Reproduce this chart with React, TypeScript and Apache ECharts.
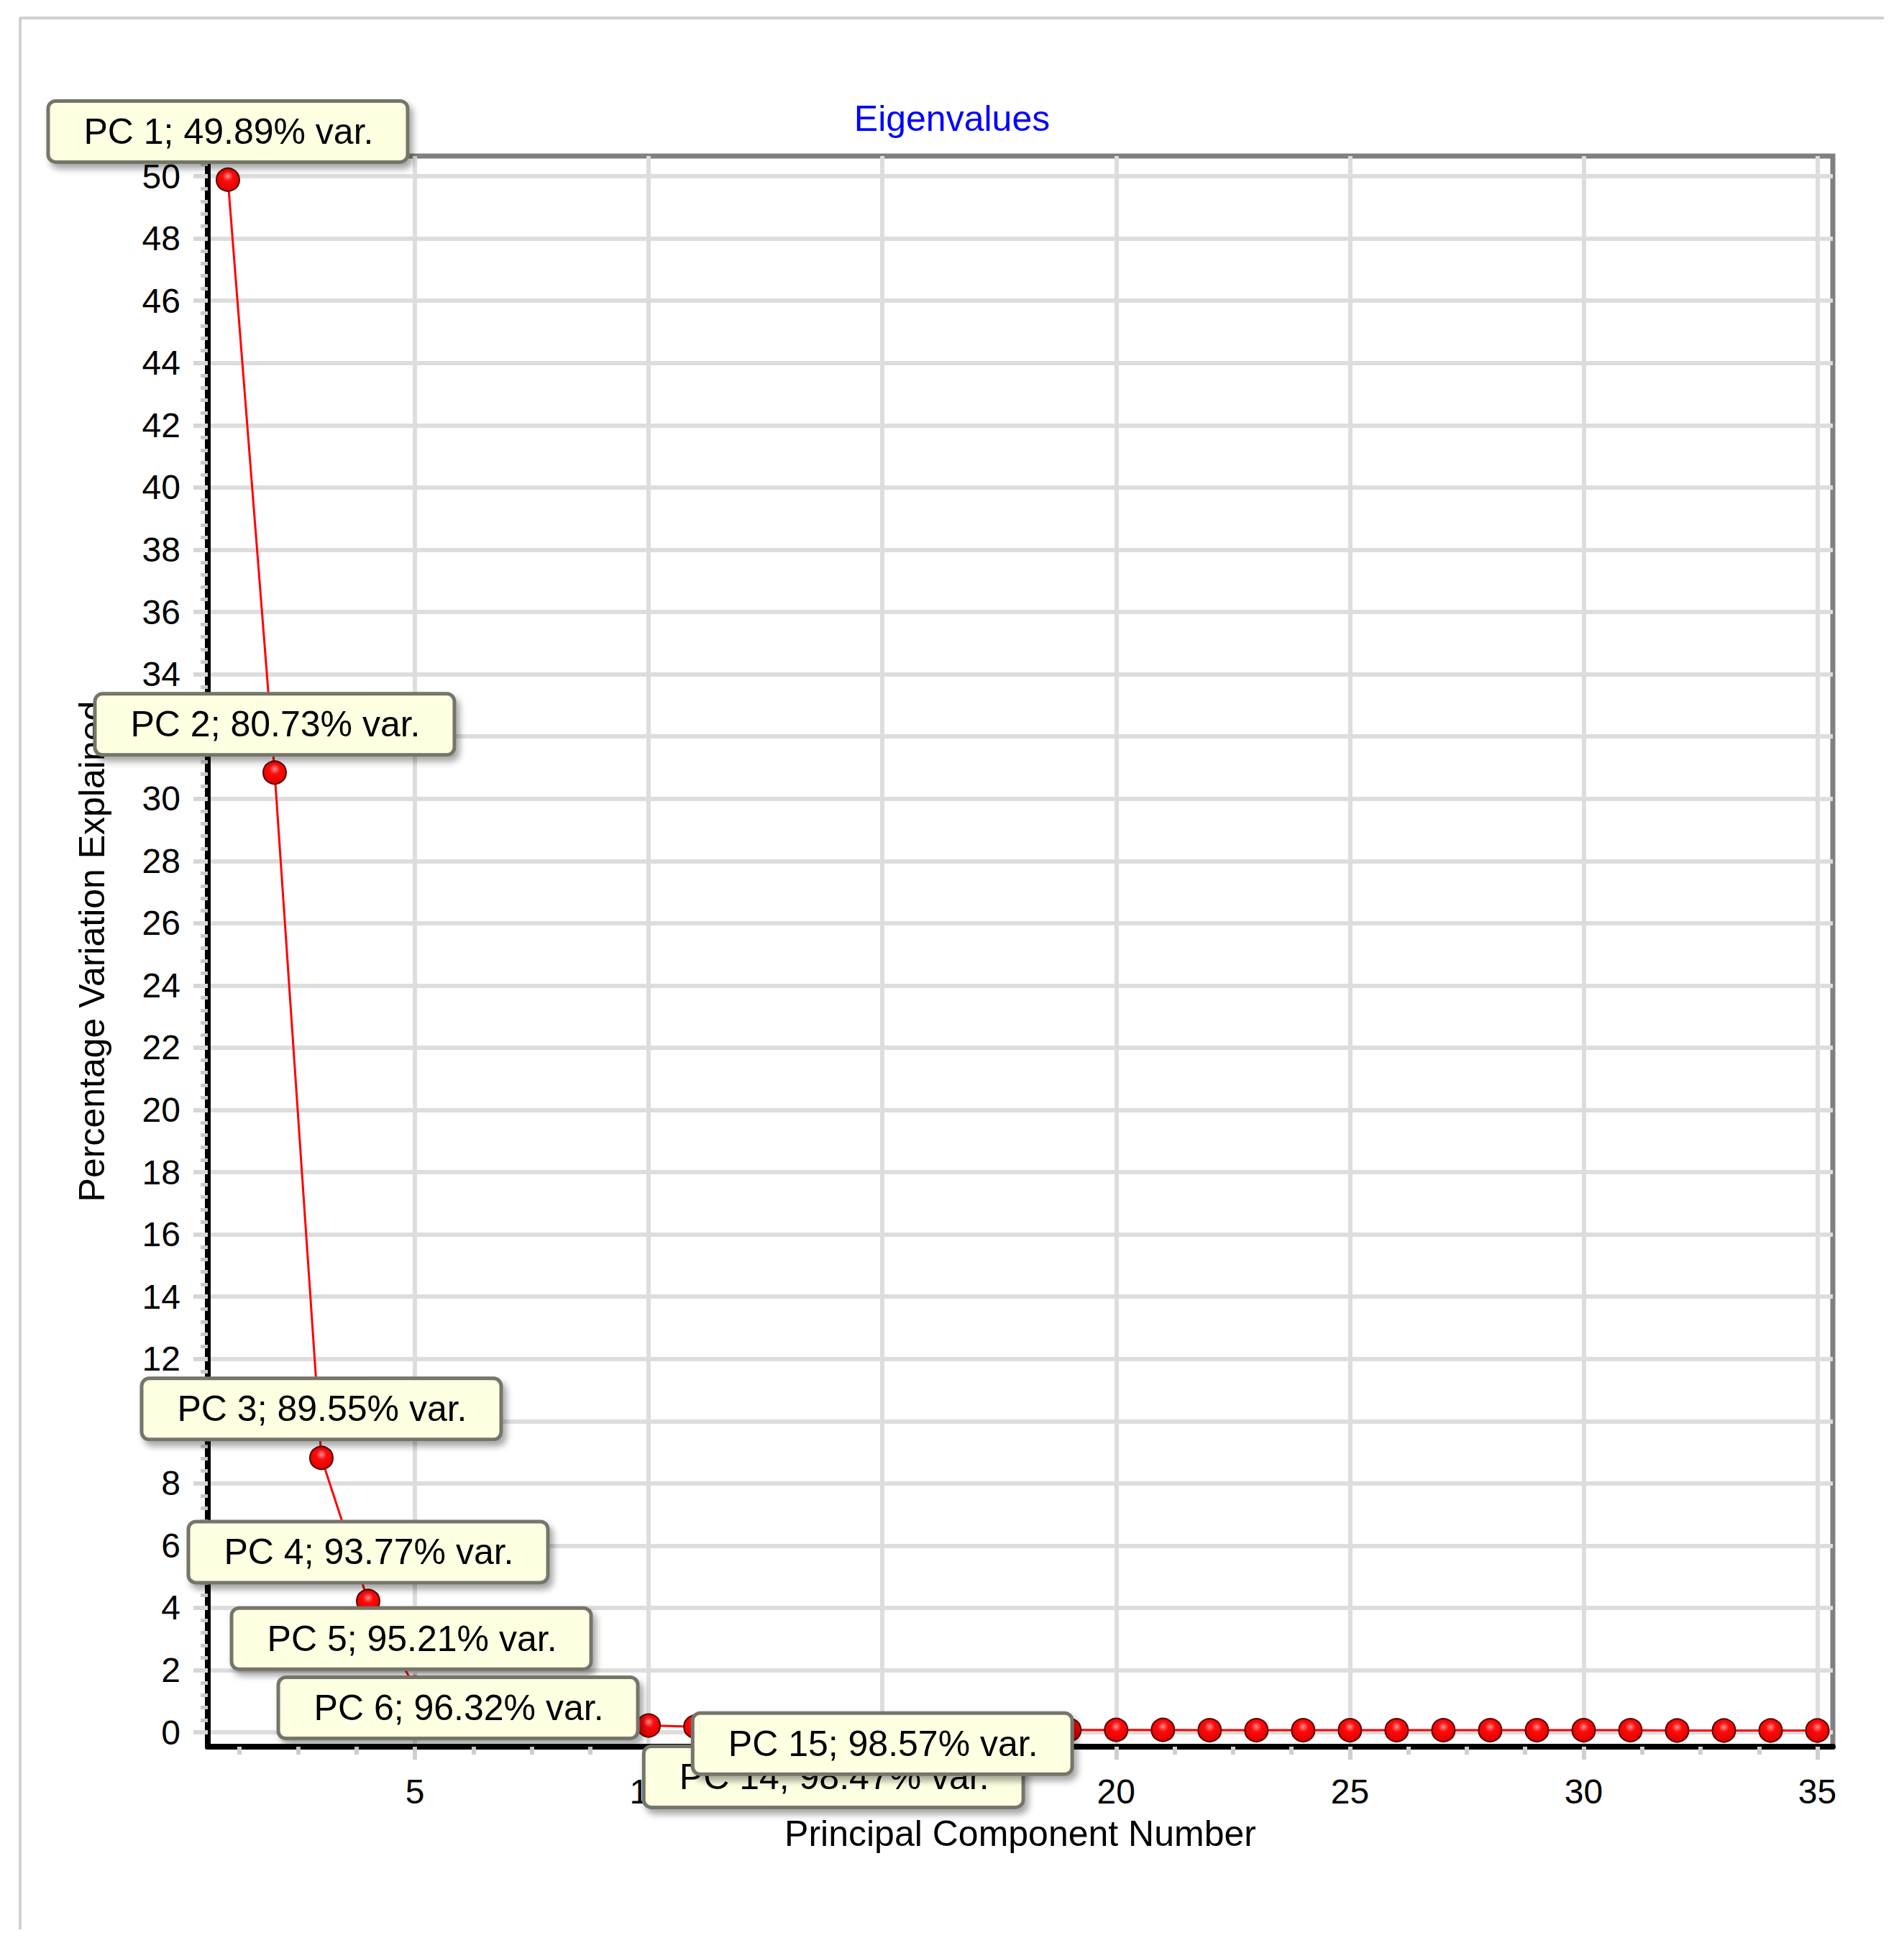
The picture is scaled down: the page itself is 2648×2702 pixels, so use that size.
import React, { useEffect, useRef } from 'react';
import * as echarts from 'echarts';

// ---- data ----
const componentNumbers = [
  1, 2, 3, 4, 5, 6, 7, 8, 9, 10, 11, 12, 13, 14, 15, 16, 17, 18, 19, 20,
  21, 22, 23, 24, 25, 26, 27, 28, 29, 30, 31, 32, 33, 34, 35,
];
const variancePercent = [
  49.89, 30.84, 8.82, 4.22, 1.44, 1.11, 0.56, 0.45, 0.34, 0.22,
  0.18, 0.15, 0.13, 0.12, 0.10, 0.09, 0.09, 0.08, 0.08, 0.08,
  0.08, 0.07, 0.07, 0.07, 0.07, 0.07, 0.07, 0.07, 0.07, 0.07,
  0.07, 0.06, 0.06, 0.06, 0.06,
];
const labeledComponents = [1, 2, 3, 4, 5, 6, 14, 15];
const xTickLabels = [5, 10, 15, 20, 25, 30, 35];
const yTickLabels = [
  0, 2, 4, 6, 8, 10, 12, 14, 16, 18, 20, 22, 24, 26, 28, 30, 32, 34, 36, 38,
  40, 42, 44, 46, 48, 50,
];
const xMinorTicks = [
  1.25, 2.5, 3.75, 6.25, 7.5, 8.75, 11.25, 12.5, 13.75, 16.25, 17.5, 18.75,
  21.25, 22.5, 23.75, 26.25, 27.5, 28.75, 31.25, 32.5, 33.75,
];

const TITLE = 'Eigenvalues';
const X_NAME = 'Principal Component Number';
const Y_NAME = 'Percentage Variation Explained';

// ---- layout (label box placement relative to its point, px) ----
const labelOffsets: Record<number, [number, number]> = {
  1: [0, -67],
  2: [0, -67],
  3: [0, -68],
  4: [0, -68],
  5: [-5, -68],
  6: [-5, 14],
  14: [-3, 67],
  15: [0, 20],
};

const FONT = "'Liberation Sans', Arial, sans-serif";

export default function App() {
  const ref = useRef<HTMLDivElement>(null);

  useEffect(() => {
    if (!ref.current) return;
    const chart = echarts.init(ref.current, undefined, { renderer: 'svg' });

    // cumulative percentages
    const cumulative: number[] = [];
    let run = 0;
    for (const v of variancePercent) {
      run = Math.round((run + v) * 100) / 100;
      cumulative.push(run);
    }

    // y minor ticks every 0.4 that are not on a major tick
    const yMinorTicks: number[] = [];
    for (let i = 1; i <= 126; i++) {
      if (i % 5 !== 0) yMinorTicks.push(Math.round(i * 0.4 * 100) / 100);
    }

    const xMin = 0.57;
    const xMax = 35.33;
    const yMin = -0.46;
    const yMax = 50.65;

    const seriesData = componentNumbers.map((pc, i) => {
      const item: any = { value: [pc, variancePercent[i]] };
      if (labeledComponents.includes(pc)) {
        item.label = { show: true, offset: labelOffsets[pc] || [0, -67] };
      }
      return item;
    });

    const option: any = {
      animation: false,
      backgroundColor: '#ffffff',
      title: {
        text: TITLE,
        left: 'center',
        top: 135,
        textStyle: {
          fontFamily: FONT,
          fontSize: 50,
          fontWeight: 'normal',
          color: '#0000ff',
        },
      },
      graphic: [
        {
          type: 'line',
          shape: { x1: 27, y1: 25, x2: 2620, y2: 25 },
          style: { stroke: '#d0d0d0', lineWidth: 4 },
          silent: true,
        },
        {
          type: 'line',
          shape: { x1: 28, y1: 25, x2: 28, y2: 2683 },
          style: { stroke: '#d0d0d0', lineWidth: 4 },
          silent: true,
        },
      ],
      grid: {
        left: 289,
        right: 99,
        top: 217,
        bottom: 273,
        show: true,
        borderColor: '#808080',
        borderWidth: 7,
        backgroundColor: 'transparent',
      },
      xAxis: [
        {
          type: 'value',
          min: xMin,
          max: xMax,
          minInterval: 5,
          maxInterval: 5,
          splitNumber: 7,
          position: 'bottom',
          name: X_NAME,
          nameLocation: 'middle',
          nameGap: 96,
          nameTextStyle: { fontFamily: FONT, fontSize: 50, color: '#000' },
          axisLine: { show: true, onZero: false, lineStyle: { color: '#000', width: 8 } },
          axisTick: {
            show: true,
            customValues: xTickLabels,
            length: 18,
            lineStyle: { color: '#cfcfcf', width: 6 },
          },
          axisLabel: {
            show: true,
            customValues: xTickLabels,
            margin: 38,
            fontFamily: FONT,
            fontSize: 48,
            color: '#000',
            formatter: (v: number) => (Number.isInteger(v) ? String(v) : ''),
          },
          splitLine: { show: true, lineStyle: { color: '#dddddd', width: 6 } },
        },
        {
          type: 'value',
          min: xMin,
          max: xMax,
          position: 'bottom',
          axisLine: { show: false, onZero: false },
          axisTick: {
            show: true,
            customValues: xMinorTicks,
            length: 11,
            lineStyle: { color: '#cfcfcf', width: 6 },
          },
          axisLabel: { show: false },
          splitLine: { show: false },
        },
      ],
      yAxis: [
        {
          type: 'value',
          min: yMin,
          max: yMax,
          minInterval: 2,
          maxInterval: 2,
          splitNumber: 25,
          position: 'left',
          name: Y_NAME,
          nameLocation: 'middle',
          nameGap: 136,
          nameTextStyle: { fontFamily: FONT, fontSize: 50, color: '#000' },
          axisLine: { show: true, onZero: false, lineStyle: { color: '#000', width: 8 } },
          axisTick: {
            show: true,
            customValues: yTickLabels,
            length: 20,
            lineStyle: { color: '#d6d6d6', width: 6 },
          },
          axisLabel: {
            show: true,
            customValues: yTickLabels,
            margin: 38,
            fontFamily: FONT,
            fontSize: 48,
            color: '#000',
            formatter: (v: number) => (Number.isInteger(v) ? String(v) : ''),
          },
          splitLine: { show: true, lineStyle: { color: '#dddddd', width: 6 } },
        },
        {
          type: 'value',
          min: yMin,
          max: yMax,
          position: 'left',
          axisLine: { show: false, onZero: false },
          axisTick: {
            show: true,
            customValues: yMinorTicks,
            length: 10,
            lineStyle: { color: '#c8c8c8', width: 5 },
          },
          axisLabel: { show: false },
          splitLine: { show: false },
        },
      ],
      series: [
        {
          type: 'line',
          xAxisIndex: 0,
          yAxisIndex: 0,
          data: seriesData,
          symbol: 'circle',
          symbolSize: 32,
          showSymbol: true,
          showAllSymbol: true,
          clip: false,
          lineStyle: { color: '#ff0000', width: 3 },
          itemStyle: {
            color: {
              type: 'radial',
              x: 0.5,
              y: 0.35,
              r: 0.65,
              colorStops: [
                { offset: 0, color: '#ff8c8c' },
                { offset: 0.35, color: '#ff0a0a' },
                { offset: 1, color: '#e00000' },
              ],
            },
            borderColor: '#5a0000',
            borderWidth: 2,
          },
          label: {
            show: false,
            position: 'inside',
            formatter: (p: any) => {
              const pc = p.value[0];
              const cum = cumulative[pc - 1];
              return `PC ${pc}; ${cum.toFixed(2)}% var.`;
            },
            fontFamily: FONT,
            fontSize: 50,
            lineHeight: 50,
            color: '#000000',
            backgroundColor: '#ffffe1',
            borderColor: '#75756b',
            borderWidth: 5,
            borderRadius: 8,
            padding: [15, 45, 15, 47],
            shadowColor: 'rgba(0,0,0,0.35)',
            shadowBlur: 10,
            shadowOffsetX: 5,
            shadowOffsetY: 7,
          },
          emphasis: { disabled: true },
          z: 3,
        },
      ],
    };

    chart.setOption(option);
    return () => chart.dispose();
  }, []);

  return (
    <div
      ref={ref}
      style={{ position: 'absolute', left: 0, top: 0, width: 2648, height: 2702 }}
    />
  );
}
